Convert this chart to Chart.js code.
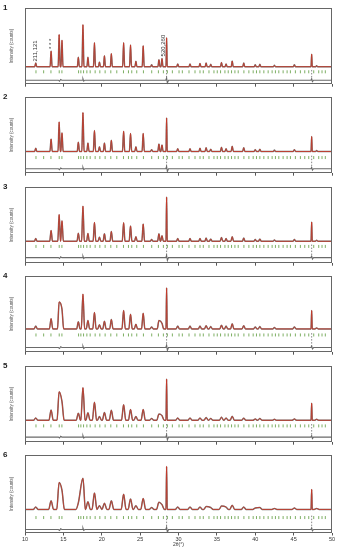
<!DOCTYPE html>
<html>
<head>
<meta charset="utf-8">
<script src="https://cdn.jsdelivr.net/npm/chart.js@4.4.1/dist/chart.umd.min.js"></script>
<style>
  body { margin: 0; background: #fff; width: 337px; height: 550px; position: relative; overflow: hidden; font-family: "Liberation Sans", Arial, sans-serif; }
  canvas { position: absolute; left: 0; }
  .num { position: absolute; left: 3px; font-weight: bold; font-size: 8px; color: #222; }
</style>
</head>
<body>
<script>
// peak positions (2theta) of the main phase
const peakPos = [11.4, 13.4, 14.45, 14.82, 16.95, 17.55, 18.2, 19.05, 19.7, 20.35, 21.25, 22.85, 23.75, 24.45, 25.4, 26.5, 27.45, 27.85,
    29.9, 31.5, 32.8, 33.6, 34.2, 35.6, 36.2, 37.0, 38.5, 40.0, 40.6, 42.5, 45.1, 48.0];
// peak heights per sample
const heights1 = [4, 16.7, 34.4, 28.4, 10, 45, 10, 25.7, 5, 11.7, 14, 25.7, 23.4, 5.7, 22.4, 2, 7.4, 8.7, 3, 3, 3.5, 4, 2.5, 4.5, 3, 6, 4, 2, 2.5, 1.5, 2, 1];
const heights2 = [3.5, 13.4, 31.7, 20, 10, 41.7, 9, 22.4, 5, 9, 12, 21.7, 19.3, 5, 19.3, 2, 8, 7, 3, 3, 3.5, 4, 2.5, 4.5, 3, 5.5, 4, 2, 2.5, 1.5, 2, 1];
const heights3 = [3, 11.7, 28.7, 22, 8.7, 37.7, 8.5, 20.3, 4.5, 8, 10.5, 20, 16.5, 5, 18.5, 2, 8, 6, 3, 3, 3, 3.5, 2.5, 4, 3, 5, 3.5, 2, 2.5, 1.5, 2, 1];
const heights4 = [3, 11, 29, 21, 7.6, 37.3, 9, 17.6, 4.5, 8.3, 10, 19.7, 15.7, 5, 16.7, 2, 9, 6, 3, 3, 3, 3.5, 2.5, 4, 3, 5.5, 3.5, 2, 2.5, 1.5, 2, 1];
const heights5 = [2.5, 11, 30.7, 20, 7.7, 35, 8, 19.3, 4, 8.3, 10.7, 16.7, 11.7, 4, 11.7, 2, 6.7, 5, 2.5, 2.5, 2.5, 3, 2, 3.3, 2.5, 4.3, 2.3, 1.5, 2, 1, 1.5, 1];
const heights6 = [2.5, 9, 28.3, 20, 7, 32.6, 8, 17.3, 4, 6.6, 9, 16, 11, 4, 11.6, 2, 7.6, 5, 2.5, 2.5, 2.5, 3, 2, 3.5, 2.5, 4.5, 2.5, 1.5, 2, 1, 1.5, 1];
const peakHeights = [heights1, heights2, heights3, heights4, heights5, heights6];
// half base width of the peaks per sample (degrees)
const peakWidths = [0.13, 0.15, 0.18, 0.22, 0.28, 0.32];
// Si standard
const siPos = [28.45, 47.35];
const siHeights = [[31, 13.4], [36, 16], [47.5, 20.7], [44, 19.7], [44.3, 18.3], [45, 21]];
const siWidth = 0.08;
// reflection markers
const reflPos = [11.43, 12.43, 13.38, 14.46, 14.81, 16.98, 17.28, 17.63, 18.06, 18.49, 19.14, 19.75, 20.44, 21.18, 21.96, 22.83, 23.48,
    23.91, 24.56, 25.43, 26.51, 27.38, 28.03, 28.55, 29.2, 30.07, 30.5, 31.37, 32.15, 32.8, 33.23, 33.97, 34.62, 35.05, 35.48, 36.05,
    36.48, 36.91, 37.35, 37.78, 38.52, 39.17, 39.73, 40.16, 40.6, 41.12, 41.68, 42.2, 42.63, 43.07, 43.63, 44.15, 44.58, 45.23, 45.88,
    46.45, 46.97, 47.62, 48.27, 48.7, 49.13];
// difference curve
const diffX = [10, 14.35, 14.5, 14.65, 14.8, 17.45, 17.55, 17.65, 17.8, 28.35, 28.45, 28.55, 28.7, 47.25, 47.35, 47.45, 47.6, 50];
const diffY = [0, 0, -1, 0.8, 0, 0, 1.5, -1, 0, 0, 2.5, -3, 0, 0, 1.5, -1.5, 0, 0];
// axis ranges, marker rows
const yMins = [-18.8, -23.3, -23.5, -25, -23.5, -24.7];
const yMaxs = [63.2, 58.7, 58.5, 57, 58.5, 57.3];
const tickLevels = [-5.5, -6.5, -5.5, -6.5, -6, -8.5];
const diffLevels = [-14.5, -18.5, -17.5, -20, -18, -21];
const xTicks = [10, 15, 20, 25, 30, 35, 40, 45, 50];
// labels on sample 1
const annotText = ['211,121', '* * *', '520,260'];
const annotX = [11.4, 13.4, 28.05];
const annotY = [5.5, 19, 11];

const panelTops = [3.5, 93, 182.5, 272, 361.5, 451];
const panelH = 82;

function profile(hs, si, w) {
    const peaks = peakPos.map((p, i) => [p, hs[i], w]).concat(siPos.map((p, i) => [p, si[i], siWidth]));
    peaks.sort((a, b) => a[0] - b[0]);
    let pts = [{x: 10, y: 0}];
    peaks.forEach(([p, h, hw]) => {
        pts.push({x: p - hw, y: 0}, {x: p, y: h}, {x: p + hw, y: 0});
    });
    pts.push({x: 50, y: 0});
    // feet that fall inside a neighbouring peak are dropped
    pts = pts.filter(pt => pt.y !== 0 || !peaks.some(([p, h, hw]) => Math.abs(pt.x - p) < hw - 1e-6));
    return pts.sort((a, b) => a.x - b.x);
}

const framePlugin = {
    id: 'frame',
    afterDraw(chart) {
        const {ctx, chartArea: a} = chart;
        ctx.save();
        ctx.strokeStyle = '#666';
        ctx.lineWidth = 1;
        ctx.strokeRect(Math.round(a.left) + 0.5, Math.round(a.top) + 0.5, Math.round(a.right - a.left) - 1, Math.round(a.bottom - a.top) - 1);
        ctx.restore();
    }
};

const annotPlugin = {
    id: 'annot',
    afterDatasetsDraw(chart) {
        const {ctx, scales: {x, y}} = chart;
        ctx.save();
        ctx.fillStyle = '#333';
        ctx.font = '6px "Liberation Sans", Arial, sans-serif';
        ctx.textAlign = 'left';
        ctx.textBaseline = 'middle';
        annotText.forEach((t, i) => {
            ctx.save();
            ctx.translate(x.getPixelForValue(annotX[i]), y.getPixelForValue(annotY[i]));
            ctx.rotate(-Math.PI / 2);
            ctx.fillText(t, 0, 0);
            ctx.restore();
        });
        ctx.restore();
    }
};

for (let k = 0; k < 6; k++) {
    const last = k === 5;
    const xH = last ? 15 : 3;
    const cv = document.createElement('canvas');
    cv.width = 337;
    cv.height = 1 + panelH + xH;
    cv.style.top = (panelTops[k] - 1) + 'px';
    document.body.appendChild(cv);

    const num = document.createElement('div');
    num.className = 'num';
    num.style.top = (panelTops[k] - 1) + 'px';
    num.textContent = String(k + 1);
    document.body.appendChild(num);

    const curve = profile(peakHeights[k], siHeights[k], peakWidths[k]);
    const ticks = reflPos.map(p => ({x: p, y: tickLevels[k]}));
    const diff = diffX.map((p, i) => ({x: p, y: diffLevels[k] + diffY[i]}));

    const datasets = [
        {data: curve, borderColor: '#cc3322', borderWidth: 0.8, pointRadius: 0, cubicInterpolationMode: 'monotone'},
        {data: curve, borderColor: '#777777', borderWidth: 1.5, pointRadius: 0, cubicInterpolationMode: 'monotone'},
        {data: ticks, showLine: false, pointStyle: 'line', rotation: 90, pointRadius: 1.5, borderColor: '#5d9a3c', borderWidth: 0.8},
        {data: diff, borderColor: '#6a6a6a', borderWidth: 1.1, pointRadius: 0}
    ];
    siPos.forEach(p => {
        datasets.push({data: [{x: p, y: tickLevels[k] + 2}, {x: p, y: diffLevels[k]}], borderColor: '#555', borderWidth: 0.7, borderDash: [1.5, 1.5], pointRadius: 0});
    });

    new Chart(cv, {
        type: 'line',
        data: {datasets},
        options: {
            animation: false,
            responsive: false,
            events: [],
            layout: {padding: {top: 1, right: 5, left: 0, bottom: 0}},
            plugins: {legend: {display: false}, tooltip: {enabled: false}},
            scales: {
                x: {
                    type: 'linear', min: 10, max: 50,
                    afterBuildTicks: s => { s.ticks = xTicks.map(v => ({value: v})); },
                    ticks: {display: last, font: {size: 5.5}, color: '#333', padding: 1, maxRotation: 0},
                    grid: {drawOnChartArea: false, tickLength: 2.5, color: '#555'},
                    border: {display: false},
                    title: {display: last, text: '2θ(°)', font: {size: 5}, color: '#333', padding: 0},
                    afterFit: s => { s.height = xH; }
                },
                y: {
                    min: yMins[k], max: yMaxs[k],
                    ticks: {display: false},
                    grid: {display: false},
                    border: {display: false},
                    title: {display: true, text: 'Intensity (counts)', font: {size: 4.5}, color: '#555', padding: {top: 9, bottom: 0}},
                    afterFit: s => { s.width = 25; }
                }
            }
        },
        plugins: k === 0 ? [framePlugin, annotPlugin] : [framePlugin]
    });
}
</script>
</body>
</html>
